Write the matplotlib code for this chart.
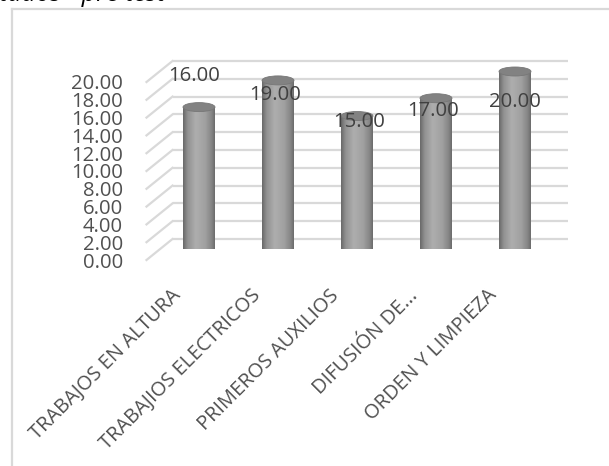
import numpy as np
import matplotlib
matplotlib.use("Agg")
import matplotlib.pyplot as plt
from matplotlib.patches import Ellipse
from matplotlib.lines import Line2D
from matplotlib.colors import LinearSegmentedColormap

# datos del gráfico
categorias = ["TRABAJOS EN ALTURA", "TRABAJIOS ELECTRICOS", "PRIMEROS AUXILIOS",
              "DIFUSIÓN DE...", "ORDEN Y LIMPIEZA"]
valores = [16.00, 19.00, 15.00, 17.00, 20.00]
ticks_y = np.arange(0, 22, 2)
titulo = "Resultados - pre test"

# desplazamiento de las etiquetas de datos (pixeles), como quedaron en el original
etiq_dx = [-5, -3, 2, -3, 0]
etiq_dy = [31, -15, -6, -13, -31]

W, H = 609, 466
fig = plt.figure(figsize=(W / 100, H / 100), dpi=100)
ax = fig.add_axes([159.5 / W, (H - 249.5) / H, 395 / W, 178 / H])
ax.set_xlim(-0.5, 4.5)
ax.set_ylim(0, 20)
ax.axis("off")

fuente = "Open Sans"
gris_txt = "#505050"
gris_grid = "#d9d9d9"

# profundidad 3D (oblicua) en unidades de datos
DX = 13 / 79
DY = 10.5 / 8.9

# pared de fondo y pared izquierda
for v in ticks_y:
    ax.plot([-0.5 + DX, 4.5 + DX], [v + DY, v + DY], color=gris_grid, lw=1.6,
            zorder=1, clip_on=False, solid_capstyle="butt")
    ax.plot([-0.5 - DX, -0.5 + DX], [v - DY, v + DY], color=gris_grid, lw=1.6,
            zorder=1, clip_on=False)
    ax.annotate(f"{v:.2f}", xy=(-0.5 - DX, v - DY), xytext=(-23.5, 0),
                textcoords="offset pixels", ha="right", va="center_baseline",
                fontsize=14.6, family=fuente, color=gris_txt,
                annotation_clip=False)

# cilindros
ancho = 0.405
alto_elipse = 9 / 8.9
cmap = LinearSegmentedColormap.from_list(
    "cil", [(0, "#686868"), (0.15, "#929292"), (0.4, "#aeaeae"),
            (0.7, "#a0a0a0"), (0.9, "#858585"), (1, "#6a6a6a")])
grad = np.linspace(0, 1, 256).reshape(1, -1)

x = np.arange(len(valores))
barras = ax.bar(x, valores, width=ancho, color="none", edgecolor="none",
                zorder=3, clip_on=False)
for b, v in zip(barras, valores):
    x0 = b.get_x()
    xc = x0 + b.get_width() / 2
    ext = (x0, x0 + b.get_width(), -alto_elipse / 2, v)
    base = Ellipse((xc, 0), ancho, alto_elipse, color="none", zorder=3)
    ax.add_patch(base)
    for clip in (b, base):
        im = ax.imshow(grad, cmap=cmap, extent=ext, aspect="auto",
                       zorder=3, interpolation="bilinear")
        im.set_clip_path(clip)
    tapa = Ellipse((xc, v), ancho, alto_elipse, facecolor="#828282",
                   edgecolor="#777777", lw=0.6, zorder=4, clip_on=False)
    ax.add_patch(tapa)

ax.set_xlim(-0.5, 4.5)
ax.set_ylim(0, 20)

# etiquetas de datos
for i, v in enumerate(valores):
    ax.annotate(f"{v:.2f}", xy=(i, v), xytext=(etiq_dx[i], etiq_dy[i]),
                textcoords="offset pixels", ha="center", va="center",
                fontsize=14.6, family=fuente, color="#404040", zorder=6,
                annotation_clip=False)

# etiquetas de categorías, giradas 45°
for i, c in enumerate(categorias):
    ax.annotate(c, xy=(i, 0), xytext=(-28, -36), textcoords="offset pixels",
                ha="right", va="top", rotation=45, rotation_mode="anchor",
                fontsize=14.4, family=fuente, color=gris_txt,
                annotation_clip=False)

# marco del área del gráfico y título cortado arriba
fig.add_artist(Line2D([12 / W, 1], [1 - 9 / H, 1 - 9 / H], color=gris_grid, lw=1.6))
fig.add_artist(Line2D([12 / W, 12 / W], [0, 1 - 9 / H], color=gris_grid, lw=1.6))
fig.text(165 / W, 1 - 1 / H, titulo, ha="right", va="baseline", fontsize=18,
         style="italic", family=fuente, color="black")

fig.savefig("out.png", dpi=100)
